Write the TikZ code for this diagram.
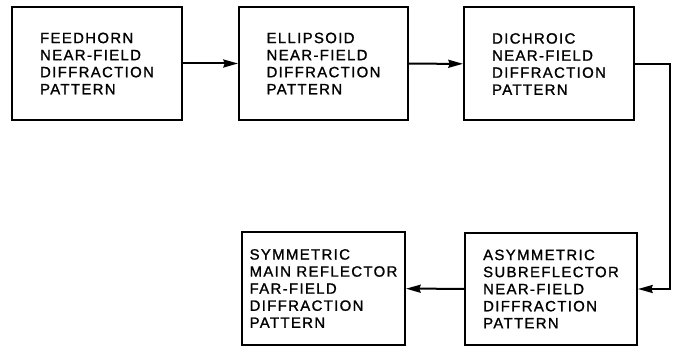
\documentclass[tikz,border=0pt]{standalone}
\usepackage{fontspec}
\usepackage{tikz}
\usetikzlibrary{arrows.meta}
\newfontfamily\labelfont[LetterSpace=9,FakeBold=1.2]{Liberation Sans}

\begin{document}
\begin{tikzpicture}[x=0.75pt, y=-0.75pt,
	stage/.style={draw, line width=1.5pt, inner sep=0pt, align=left, minimum height=84.75pt,
		font=\labelfont\fontsize{11.2pt}{12.8pt}\selectfont},
	flow/.style={line width=1.5pt, -{Stealth[length=11pt,width=6pt,inset=1pt]}}]
	\useasboundingbox (0,0) rectangle (679,346);
	\node[stage, minimum width=127.5pt] (feed) at (97,63.5) {FEEDHORN\\NEAR-FIELD\\DIFFRACTION\\PATTERN};
	\node[stage, minimum width=126.75pt] (ellip) at (323.5,63.5) {ELLIPSOID\\NEAR-FIELD\\DIFFRACTION\\PATTERN};
	\node[stage, minimum width=127.5pt] (dich) at (549,64) {DICHROIC\\NEAR-FIELD\\DIFFRACTION\\PATTERN};
	\node[stage, minimum width=129pt, minimum height=84pt] (asym) at (551,289) {ASYMMETRIC\\SUBREFLECTOR\\NEAR-FIELD\\DIFFRACTION\\PATTERN};
	\node[stage, minimum width=122.25pt] (symm) at (323.5,288.5) {SYMMETRIC\\MAIN REFLECTOR\\FAR-FIELD\\DIFFRACTION\\PATTERN};
	\coordinate (turn) at (670,64);
	\draw[flow] (feed) -- (ellip);
	\draw[flow] (ellip) -- (dich);
	\draw[flow] (dich.east) -- (turn) |- (asym.east);
	\draw[flow] (asym) -- (symm);
\end{tikzpicture}
\end{document}
